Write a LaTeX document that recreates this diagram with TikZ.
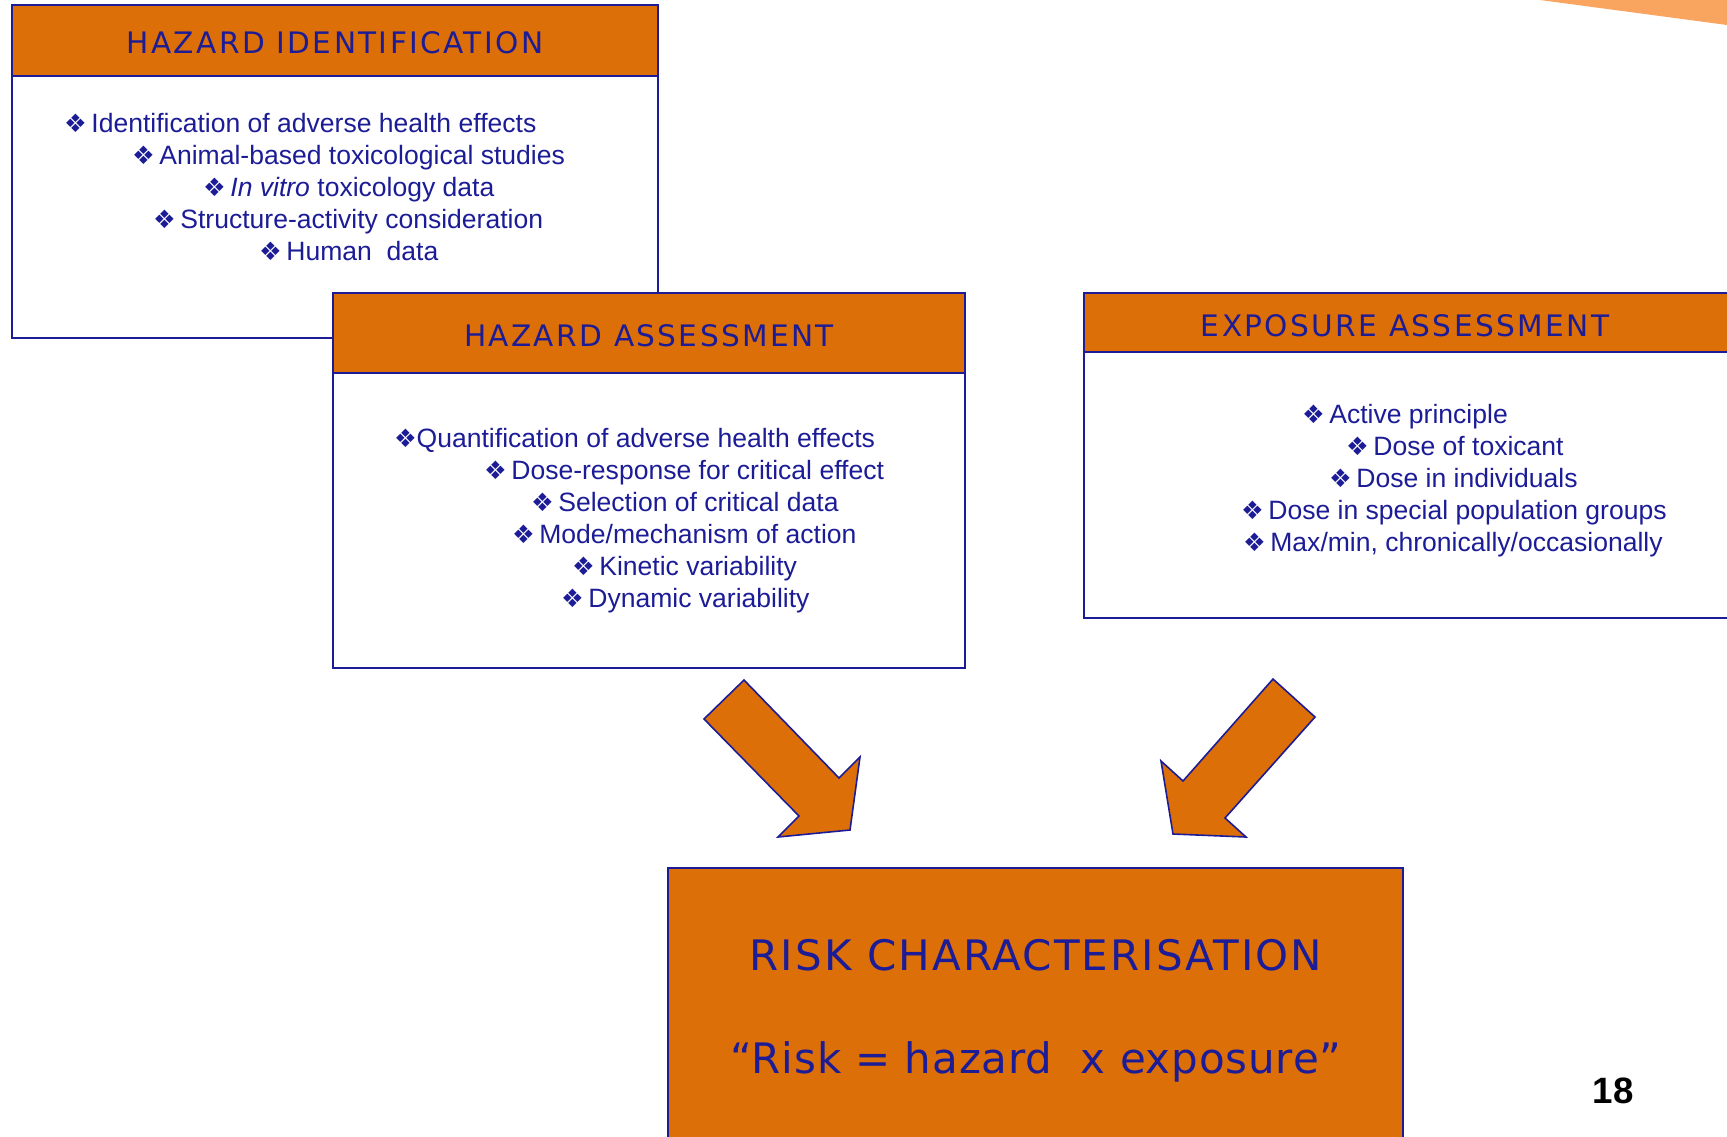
\documentclass[tikz,border=0pt]{standalone}
\usepackage{fontspec}
\setmainfont{Liberation Sans}
\newfontfamily\capsfont{DejaVu Sans}[LetterSpace=8]
\newfontfamily\titlefont{DejaVu Sans}[LetterSpace=5]
\newfontfamily\quotefont{DejaVu Sans}[LetterSpace=2]
\newfontfamily\dingfont{DejaVu Sans}
\definecolor{hazorange}{RGB}{220,111,8}
\definecolor{navyink}{RGB}{28,28,150}
\definecolor{cornerorange}{RGB}{250,165,95}
\newcommand\bulletmark{{\dingfont\fontsize{19}{19}\selectfont ❖}}
\newcommand\gap{\hspace{3.5pt}}

\tikzset{every picture/.style={line width=1.5pt},
  boxbody/.style={draw=navyink,fill=white},
  boxhead/.style={draw=navyink,fill=hazorange},
  headtext/.style={text=navyink,font=\capsfont\fontsize{22.2}{26}\selectfont,anchor=base,inner sep=0pt},
  bigtext/.style={text=navyink,font=\fontsize{31.5}{36}\selectfont,anchor=base,inner sep=0pt},
  itemtext/.style={text=navyink,font=\fontsize{19.9}{24}\selectfont,anchor=base west,inner sep=0pt},
  blockarrow/.style={draw=navyink,fill=hazorange,line width=1.2pt,line join=miter}
}

\begin{document}
\begin{tikzpicture}[x=0.75pt,y=0.75pt,yscale=-1,xscale=1]
\useasboundingbox (0,0) rectangle (1727,1136);

%Shape: Corner
\fill [cornerorange] (1540,0) -- (1727,0) -- (1727,25) -- cycle;

%Shape: Rectangle [hazard identification]
\draw [boxbody] (12,5) rectangle (658,338);
\draw [boxhead] (12,5) rectangle (658,76);
%Shape: Rectangle [hazard assessment]
\draw [boxbody] (333,293) rectangle (965,668);
\draw [boxhead] (333,293) rectangle (965,373);
%Shape: Rectangle [exposure assessment]
\draw [boxbody] (1084,293) rectangle (1730,618);
\draw [boxhead] (1084,293) rectangle (1730,352);
%Shape: Rectangle [risk characterisation]
\draw [boxhead] (668,868) rectangle (1403,1142);

%Shape: Right Arrow
\draw [blockarrow] (744,680) -- (704,719) -- (799,816) -- (778,837) -- (850,830) -- (860,757) -- (839,778) -- cycle;
%Shape: Left Arrow
\draw [blockarrow] (1273,679) -- (1315,717) -- (1225,818) -- (1246,837) -- (1173,834) -- (1161,761) -- (1183,781) -- cycle;

% Text Node
\draw (335,53) node [headtext] (hidtitle) {HAZARD IDENTIFICATION};
% Text Node
\draw (63,132) node [itemtext] (hid1) {\bulletmark\gap Identification of adverse health effects};
\draw (131,164) node [itemtext] (hid2) {\bulletmark\gap Animal-based toxicological studies};
\draw (202,196) node [itemtext] (hid3) {\bulletmark\gap \textit{In vitro} toxicology data};
\draw (152,228) node [itemtext] (hid4) {\bulletmark\gap Structure-activity consideration};
\draw (258,260) node [itemtext] (hid5) {\bulletmark\gap Human\ \ data};

% Text Node
\draw (649,346) node [headtext] (hastitle) {HAZARD ASSESSMENT};
% Text Node
\draw (393,447) node [itemtext] (has1) {\bulletmark Quantification of adverse health effects};
\draw (483,479) node [itemtext] (has2) {\bulletmark\gap Dose-response for critical effect};
\draw (530,511) node [itemtext] (has3) {\bulletmark\gap Selection of critical data};
\draw (511,543) node [itemtext] (has4) {\bulletmark\gap Mode/mechanism of action};
\draw (571,575) node [itemtext] (has5) {\bulletmark\gap Kinetic variability};
\draw (560,607) node [itemtext] (has6) {\bulletmark\gap Dynamic variability};

% Text Node
\draw (1405,336) node [headtext] (exptitle) {EXPOSURE ASSESSMENT};
% Text Node
\draw (1301,423) node [itemtext] (exp1) {\bulletmark\gap Active principle};
\draw (1345,455) node [itemtext] (exp2) {\bulletmark\gap Dose of toxicant};
\draw (1328,487) node [itemtext] (exp3) {\bulletmark\gap Dose in individuals};
\draw (1240,519) node [itemtext] (exp4) {\bulletmark\gap Dose in special population groups};
\draw (1242,551) node [itemtext] (exp5) {\bulletmark\gap Max/min, chronically/occasionally};

% Text Node
\draw (1036,970) node [bigtext] (risktitle) {\titlefont RISK CHARACTERISATION};
\draw (1036,1073) node [bigtext] (riskformula) {\quotefont “Risk = hazard\ \ x exposure”};

% Text Node
\draw (1613,1103) node [anchor=base,inner sep=0pt,font=\bfseries\fontsize{27.5}{30}\selectfont] (pagenum) {18};

\end{tikzpicture}
\end{document}
